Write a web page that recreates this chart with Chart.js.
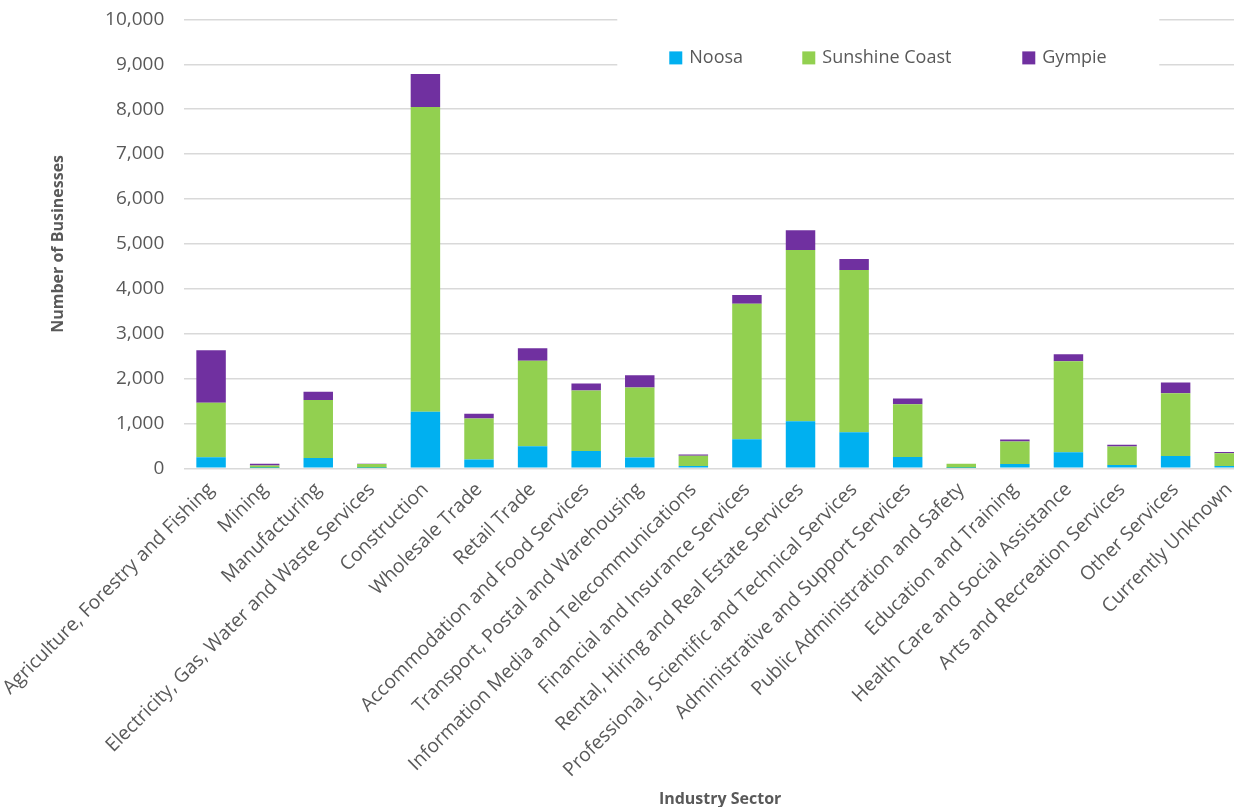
<!DOCTYPE html>
<html>
<head>
<meta charset="utf-8">
<script src="https://cdn.jsdelivr.net/npm/chart.js@4/dist/chart.umd.min.js"></script>
<style>
  html, body { margin: 0; padding: 0; background: #fff; overflow: hidden; }
  #wrap { width: 1262px; height: 807px; position: relative; }
</style>
</head>
<body>
<div id="wrap"><canvas id="myChart"></canvas></div>
<script>
// businesses by industry sector, per council area
var sectors = [
    'Agriculture, Forestry and Fishing', 'Mining', 'Manufacturing',
    'Electricity, Gas, Water and Waste Services', 'Construction', 'Wholesale Trade',
    'Retail Trade', 'Accommodation and Food Services', 'Transport, Postal and Warehousing',
    'Information Media and Telecommunications', 'Financial and Insurance Services',
    'Rental, Hiring and Real Estate Services', 'Professional, Scientific and Technical Services',
    'Administrative and Support Services', 'Public Administration and Safety',
    'Education and Training', 'Health Care and Social Assistance',
    'Arts and Recreation Services', 'Other Services', 'Currently Unknown'
];
var noosa = [245, 10, 230, 10, 1260, 195, 490, 385, 240, 50, 650, 1050, 805, 250, 10, 95, 360, 75, 275, 50];
var sunshineCoast = [1215, 55, 1290, 85, 6790, 915, 1905, 1350, 1560, 230, 3015, 3815, 3615, 1180, 90, 505, 2025, 410, 1395, 285];
var gympie = [1170, 40, 185, 5, 735, 105, 280, 155, 275, 30, 195, 440, 245, 125, 5, 45, 155, 40, 240, 30];
var yTicks = [0, 1000, 2000, 3000, 4000, 5000, 6000, 7000, 8000, 9000, 10000];

var textColor = '#595959';
var gridColor = '#d9d9d9';
var fontFamily = '"Open Sans", "Noto Sans", sans-serif';

// legend sits inside the plot on a white panel, like the spreadsheet original
var innerLegend = {
    id: 'innerLegend',
    afterDraw: function (chart) {
        var ctx = chart.ctx;
        var area = chart.chartArea;
        var x0 = area.left + 433;
        var y0 = area.top - 8;
        ctx.save();
        ctx.fillStyle = '#ffffff';
        ctx.fillRect(x0, y0, 542, 78);
        ctx.font = '18px ' + fontFamily;
        ctx.textBaseline = 'middle';
        var offsets = [52, 185, 405];
        chart.data.datasets.forEach(function (ds, i) {
            var bx = x0 + offsets[i];
            var by = area.top + 32;
            ctx.fillStyle = ds.backgroundColor;
            ctx.fillRect(bx, by, 13, 13);
            ctx.fillStyle = textColor;
            ctx.fillText(ds.label, bx + 20, by + 6.5);
        });
        ctx.restore();
    }
};

var ctx = document.getElementById('myChart').getContext('2d');
var myChart = new Chart(ctx, {
    type: 'bar',
    data: {
        labels: sectors,
        datasets: [
            { label: 'Noosa', data: noosa, backgroundColor: '#00b0f0' },
            { label: 'Sunshine Coast', data: sunshineCoast, backgroundColor: '#92d050' },
            { label: 'Gympie', data: gympie, backgroundColor: '#7030a0' }
        ]
    },
    options: {
        responsive: true,
        maintainAspectRatio: false,
        animation: false,
        layout: { padding: { top: 0, right: 6, left: 40, bottom: -2 } },
        datasets: {
            bar: {
                categoryPercentage: 1,
                barPercentage: 0.55,
                borderWidth: 0
            }
        },
        plugins: {
            legend: { display: false },
            tooltip: { enabled: false }
        },
        scales: {
            x: {
                stacked: true,
                grid: { display: false },
                border: { display: false },
                ticks: {
                    color: textColor,
                    font: { family: fontFamily, size: 19.25 },
                    minRotation: 45,
                    maxRotation: 45,
                    autoSkip: false,
                    padding: 2
                },
                title: {
                    display: true,
                    text: 'Industry Sector',
                    color: textColor,
                    font: { family: fontFamily, size: 16, weight: 'bold' },
                    padding: { top: 6, bottom: 0 }
                }
            },
            y: {
                stacked: true,
                min: 0,
                max: 10000,
                afterBuildTicks: function (axis) {
                    axis.ticks = yTicks.map(function (v) { return { value: v }; });
                },
                // invisible tick marks keep the label gap without extra top padding
                grid: {
                    color: gridColor,
                    lineWidth: 1.5,
                    drawTicks: true,
                    tickLength: 12,
                    tickColor: 'rgba(0,0,0,0)'
                },
                border: { display: false },
                ticks: {
                    color: textColor,
                    font: { family: fontFamily, size: 19 },
                    padding: 8,
                    callback: function (v) { return v.toLocaleString('en-US'); }
                },
                title: {
                    display: true,
                    text: 'Number of Businesses',
                    color: textColor,
                    font: { family: fontFamily, size: 16, weight: 'bold' },
                    padding: { top: 0, bottom: 29 }
                }
            }
        }
    },
    plugins: [innerLegend]
});
</script>
</body>
</html>
